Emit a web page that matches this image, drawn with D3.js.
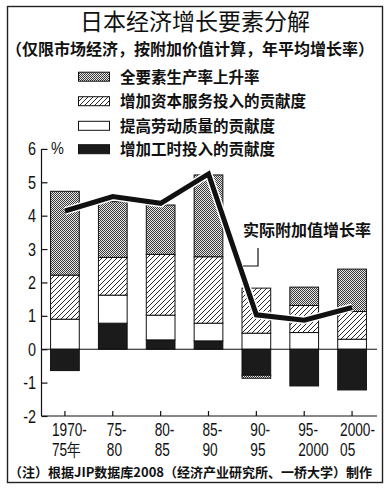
<!DOCTYPE html>
<html><head><meta charset="utf-8">
<script src="https://cdn.jsdelivr.net/npm/d3@7"></script>
<style>body{margin:0;background:#fff}</style>
</head><body><svg id="c" width="390" height="490"></svg>
<script>
// ---- data ----
const categories = ["1970-|75年", "75-|80", "80-|85", "85-|90", "90-|95", "95-|2000", "2000-|05"];
const hoursContrib   = [-0.64, 0.78, 0.28, 0.25, -0.78, -1.10, -1.22];
const laborQuality   = [0.90, 0.84, 0.74, 0.53, 0.48, 0.50, 0.30];
const capitalContrib = [1.32, 1.13, 1.82, 1.99, 1.35, 0.81, 0.83];
const tfpGrowth      = [2.51, 1.67, 1.48, 2.45, -0.09, 0.55, 1.27];
const actualGrowth   = [4.14, 4.57, 4.37, 5.25, 1.03, 0.87, 1.25];
const yTickValues    = [-2, -1, 0, 1, 2, 3, 4, 5, 6];
const legendLabels   = ["全要素生产率上升率", "增加资本服务投入的贡献度", "提高劳动质量的贡献度", "增加工时投入的贡献度"];
const titleText      = "日本经济增长要素分解";
const subtitleText   = "（仅限市场经济，按附加价值计算，年平均增长率）";
const noteText       = "（注）根据JIP数据库2008（经济产业研究所、一桥大学）制作";
const lineLabel      = "实际附加值增长率";

// ---- setup ----
const CJK = "'Noto Sans CJK SC','Noto Sans',sans-serif";
const NUM = "'Liberation Sans',Arial,sans-serif";
const svg = d3.select("#c");
const defs = svg.append("defs");

const dots = defs.append("pattern").attr("id", "dots").attr("patternUnits", "userSpaceOnUse").attr("width", 2).attr("height", 2);
dots.append("rect").attr("width", 2).attr("height", 2).attr("fill", "#e6e6e6");
dots.append("rect").attr("width", 1).attr("height", 1).attr("fill", "#3a3a3a");
dots.append("rect").attr("x", 1).attr("y", 1).attr("width", 1).attr("height", 1).attr("fill", "#3a3a3a");

const hatch = defs.append("pattern").attr("id", "hatch").attr("patternUnits", "userSpaceOnUse").attr("width", 5).attr("height", 5);
hatch.append("rect").attr("width", 5).attr("height", 5).attr("fill", "#fff");
hatch.append("path").attr("d", "M0,5L5,0M-1,1L1,-1M4,6L6,4").attr("stroke", "#111").attr("stroke-width", 0.9);

const fills = { tfp: "url(#dots)", capital: "url(#hatch)", labor: "#fff", hours: "#1b1b1b" };

// border
svg.append("rect").attr("x", 7.5).attr("y", 6.5).attr("width", 375).attr("height", 476)
  .attr("fill", "none").attr("stroke", "#222").attr("stroke-width", 1.4);

// titles
svg.append("text").attr("x", 195).attr("y", 30).attr("text-anchor", "middle")
  .attr("font-family", CJK).attr("font-size", 23).attr("fill", "#111").text(titleText);
svg.append("text").attr("x", 190).attr("y", 55).attr("text-anchor", "middle")
  .attr("font-family", CJK).attr("font-weight", "bold").attr("font-size", 16).attr("fill", "#111").text(subtitleText);

// scales
const x = d3.scaleBand().domain(categories).range([41, 376]).paddingInner(0.4).paddingOuter(0.2);
const y = d3.scaleLinear().domain([-2, 6]).range([416, 148.9]);

const rows = categories.map((c, i) => ({ cat: c, hours: hoursContrib[i], labor: laborQuality[i], capital: capitalContrib[i], tfp: tfpGrowth[i] }));
const keys = ["hours", "labor", "capital", "tfp"];
const stacked = d3.stack().keys(keys).offset(d3.stackOffsetDiverging)(rows);

// bars
const g = svg.append("g");
stacked.forEach(s => {
  g.selectAll(null).data(s).join("rect")
    .attr("x", d => x(d.data.cat))
    .attr("width", x.bandwidth())
    .attr("y", d => y(Math.max(d[0], d[1])))
    .attr("height", d => Math.abs(y(d[0]) - y(d[1])))
    .attr("fill", fills[s.key])
    .attr("stroke", "#111").attr("stroke-width", 1);
});

// axes
const x0 = 41.5, x1 = 377;
svg.append("line").attr("x1", x0).attr("x2", x0).attr("y1", y(6)).attr("y2", y(-2)).attr("stroke", "#111").attr("stroke-width", 1.2);
svg.append("line").attr("x1", x0).attr("x2", x1).attr("y1", y(0)).attr("y2", y(0)).attr("stroke", "#111").attr("stroke-width", 1.2);
svg.append("line").attr("x1", x0).attr("x2", x1).attr("y1", y(-2)).attr("y2", y(-2)).attr("stroke", "#111").attr("stroke-width", 1.2);

const yAxis = d3.axisRight(y).tickValues(yTickValues).tickSize(6).tickFormat("");
const ya = svg.append("g").attr("transform", `translate(${x0},0)`).call(yAxis);
ya.select(".domain").remove();
ya.selectAll("line").attr("stroke", "#111").attr("stroke-width", 1.2);
svg.selectAll(".ylab").data(yTickValues).join("text").attr("class", "ylab")
  .attr("transform", d => `translate(36,${y(d) + 6.5}) scale(0.8,1)`).attr("text-anchor", "end")
  .attr("font-family", NUM).attr("font-size", 18).attr("fill", "#111").text(d => d);
svg.append("text").attr("transform", "translate(51,154) scale(0.85,1)").attr("font-family", NUM).attr("font-size", 17).attr("fill", "#111").text("%");

// x ticks
const xAxis = d3.axisTop(x).tickSize(5).tickFormat("");
const xa = svg.append("g").attr("transform", `translate(0,${y(-2)})`).call(xAxis);
xa.select(".domain").remove();
xa.selectAll("line").attr("stroke", "#111").attr("stroke-width", 1.2);

// x labels (condensed)
const labelShift = [-13, -6, -6, -6, -6, -6, -12];
categories.forEach((c, i) => {
  const parts = c.split("|");
  const t = svg.append("text")
    .attr("transform", `translate(${x(c) + x.bandwidth() / 2 + labelShift[i]},0) scale(0.76,1)`)
    .attr("font-family", NUM).attr("font-size", 18).attr("fill", "#111");
  parts.forEach((p, j) => {
    t.append("tspan").attr("x", 0).attr("y", 436.5 + j * 20).text(p);
  });
});

// line with halo
const line = d3.line().x((d, i) => x(categories[i]) + x.bandwidth() / 2).y(d => y(d));
svg.append("path").attr("d", line(actualGrowth)).attr("fill", "none").attr("stroke", "#fff").attr("stroke-width", 8).attr("stroke-linejoin", "miter");
svg.append("path").attr("d", line(actualGrowth)).attr("fill", "none").attr("stroke", "#111").attr("stroke-width", 5).attr("stroke-linejoin", "miter");

// line label + leader
svg.append("text").attr("x", 243).attr("y", 236).attr("font-family", CJK).attr("font-weight", "bold").attr("font-size", 16).attr("fill", "#111").text(lineLabel);
svg.append("path").attr("d", "M258,248V266H243").attr("fill", "none").attr("stroke", "#111").attr("stroke-width", 1.2);

// legend
const legendFills = [fills.tfp, fills.capital, fills.labor, fills.hours];
const legendY = [76.7, 101.2, 125.8, 149.2];
legendLabels.forEach((lab, i) => {
  svg.append("rect").attr("x", 78.5).attr("y", legendY[i] - 4.5).attr("width", 31).attr("height", 9)
    .attr("fill", legendFills[i]).attr("stroke", "#111").attr("stroke-width", 1);
  svg.append("text").attr("x", 120).attr("y", legendY[i] + 6).attr("font-family", CJK).attr("font-weight", "bold")
    .attr("font-size", 15.5).attr("fill", "#111").text(lab);
});

// note
svg.append("text").attr("x", 9).attr("y", 477).attr("font-family", CJK).attr("font-weight", "bold")
  .attr("font-size", 13).attr("fill", "#111").text(noteText);
</script></body></html>
